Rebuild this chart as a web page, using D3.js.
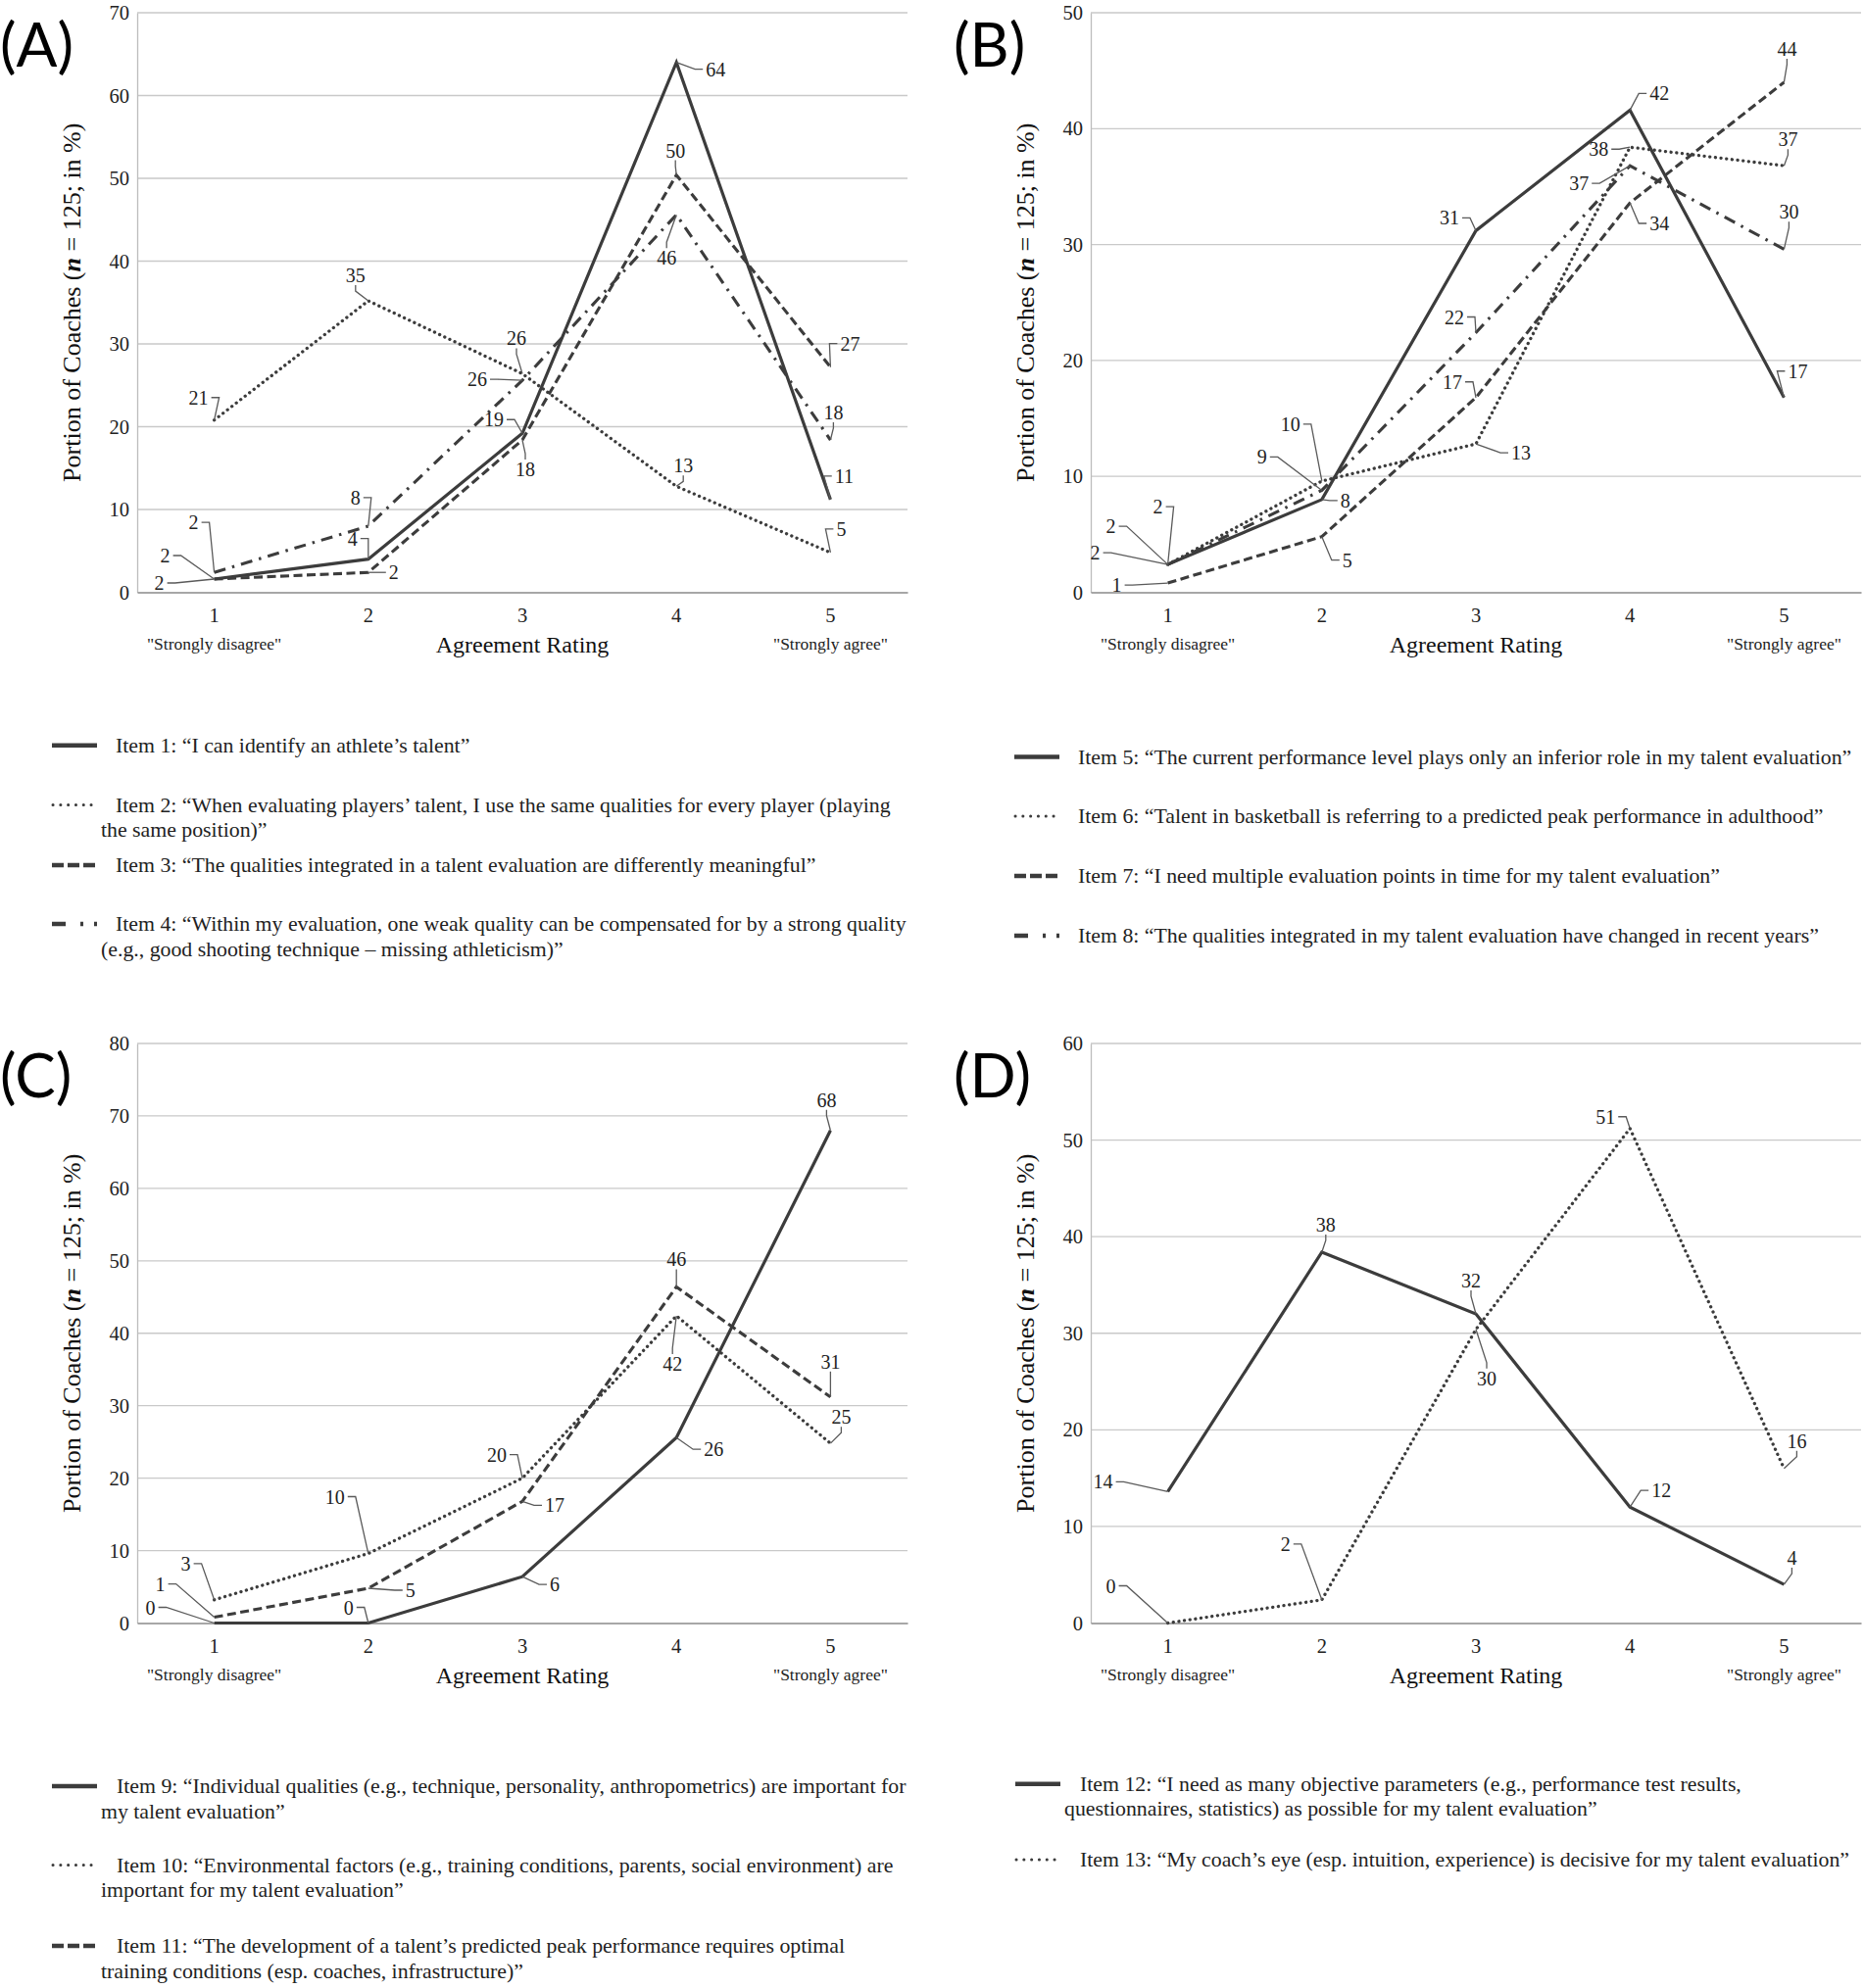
<!DOCTYPE html>
<html><head><meta charset="utf-8">
<script src="https://cdn.jsdelivr.net/npm/d3@7"></script>
<style>body{margin:0;background:#fff}svg{display:block}</style>
</head><body>
<svg id="chart" width="1902" height="2029"></svg>
<script>
// ---------------- DATA ----------------
const ratings = [1, 2, 3, 4, 5];
const ratingNotes = ['"Strongly disagree"', '', '', '', '"Strongly agree"'];
const xAxisTitle = 'Agreement Rating';
const yAxisTitleParts = ['Portion of Coaches (', 'n', ' = 125; in %)'];
const panelNames = ['(A)', '(B)', '(C)', '(D)'];

const ticksA = [0, 10, 20, 30, 40, 50, 60, 70];
const ticksB = [0, 10, 20, 30, 40, 50];
const ticksC = [0, 10, 20, 30, 40, 50, 60, 70, 80];
const ticksD = [0, 10, 20, 30, 40, 50, 60];

// percentages of n = 125 coaches
const item1 = [1.6, 4.0, 19.2, 64.0, 11.2];
const item2 = [20.8, 35.2, 26.4, 12.8, 4.8];
const item3 = [1.6, 2.4, 18.4, 50.4, 27.2];
const item4 = [2.4, 8.0, 25.6, 45.6, 18.4];
const item5 = [2.4, 8.0, 31.2, 41.6, 16.8];
const item6 = [2.4, 9.6, 12.8, 38.4, 36.8];
const item7 = [0.8, 4.8, 16.8, 33.6, 44.0];
const item8 = [2.4, 8.8, 22.4, 36.8, 29.6];
const item9 = [0.0, 0.0, 6.4, 25.6, 68.0];
const item10 = [3.2, 9.6, 20.0, 42.4, 24.8];
const item11 = [0.8, 4.8, 16.8, 46.4, 31.2];
const item12 = [13.6, 38.4, 32.0, 12.0, 4.0];
const item13 = [0.0, 2.4, 30.4, 51.2, 16.0];

const legend1 = ['Item 1: \u201CI can identify an athlete\u2019s talent\u201D'];
const legend2 = ['Item 2: \u201CWhen evaluating players\u2019 talent, I use the same qualities for every player (playing', 'the same position)\u201D'];
const legend3 = ['Item 3: \u201CThe qualities integrated in a talent evaluation are differently meaningful\u201D'];
const legend4 = ['Item 4: \u201CWithin my evaluation, one weak quality can be compensated for by a strong quality', '(e.g., good shooting technique \u2013 missing athleticism)\u201D'];
const legend5 = ['Item 5: \u201CThe current performance level plays only an inferior role in my talent evaluation\u201D'];
const legend6 = ['Item 6: \u201CTalent in basketball is referring to a predicted peak performance in adulthood\u201D'];
const legend7 = ['Item 7: \u201CI need multiple evaluation points in time for my talent evaluation\u201D'];
const legend8 = ['Item 8: \u201CThe qualities integrated in my talent evaluation have changed in recent years\u201D'];
const legend9 = ['Item 9: \u201CIndividual qualities (e.g., technique, personality, anthropometrics) are important for', 'my talent evaluation\u201D'];
const legend10 = ['Item 10: \u201CEnvironmental factors (e.g., training conditions, parents, social environment) are', 'important for my talent evaluation\u201D'];
const legend11 = ['Item 11: \u201CThe development of a talent\u2019s predicted peak performance requires optimal', 'training conditions (esp. coaches, infrastructure)\u201D'];
const legend12 = ['Item 12: \u201CI need as many objective parameters (e.g., performance test results,', 'questionnaires, statistics) as possible for my talent evaluation\u201D'];
const legend13 = ['Item 13: \u201CMy coach\u2019s eye (esp. intuition, experience) is decisive for my talent evaluation\u201D'];

// ---------------- LAYOUT (annotation label offsets, px from point) ----------------
const lab1 = [[-50,-24],[-16,-21],[-29,-14],[40,7],[14,-24]];
const lab2 = [[-16,-23],[-13,-26],[-6,-36],[7,-21],[11,-24]];
const lab3 = [[-56,4],[26,0],[3,30],[-1,-25],[20,-24]];
const lab4 = [[-21,-51],[-13,-29],[-46,-1],[-10,44],[3,-28]];
const lab5 = [[-74,-12],[24,1],[-27,-13],[30,-17],[14,-27]];
const lab6 = [[-58,-39],[-32,-58],[46,9],[-32,2],[4,-27]];
const lab7 = [[-52,2],[26,24],[-24,-16],[30,21],[3,-34]];
const lab8 = [[-10,-59],[-61,-34],[-22,-16],[-52,18],[5,-38]];
const lab9 = [[-65,-16],[-20,-16],[33,8],[38,12],[-4,-31]];
const lab10 = [[-29,-37],[-34,-58],[-26,-24],[-4,49],[11,-27]];
const lab11 = [[-55,-34],[43,2],[33,4],[0,-28],[0,-36]];
const lab12 = [[-66,-10],[4,-28],[-5,-34],[32,-17],[8,-27]];
const lab13 = [[-58,-38],[-37,-57],[11,50],[-25,-12],[13,-28]];

const SERIF = '"Liberation Serif","Times New Roman",Times,serif';
const INK = '#3c3c3c';
const styles = {
  solid:   {dash: null, width: 3.2, cap: 'butt'},
  dotted:  {dash: '0.1 5.6', width: 3.3, cap: 'round'},
  dashed:  {dash: '9 4.5', width: 3.1, cap: 'butt'},
  dashdot: {dash: '12 7 2.5 7', width: 3.1, cap: 'butt'}
};

const panels = [
  {name: panelNames[0], ox: 0, oy: 0, ticks: ticksA,
   series: [{v: item1, s: 'solid', lab: lab1}, {v: item2, s: 'dotted', lab: lab2}, {v: item3, s: 'dashed', lab: lab3}, {v: item4, s: 'dashdot', lab: lab4}],
   legend: {sx: 53, tx: 118, cx: 103, rows: [760.7, 821.5, 883, 943], items: [legend1, legend2, legend3, legend4]}},
  {name: panelNames[1], ox: 973, oy: 0, ticks: ticksB,
   series: [{v: item5, s: 'solid', lab: lab5}, {v: item6, s: 'dotted', lab: lab6}, {v: item7, s: 'dashed', lab: lab7}, {v: item8, s: 'dashdot', lab: lab8}],
   legend: {sx: 1035, tx: 1100, cx: 1085, rows: [772.5, 833, 894, 955], items: [legend5, legend6, legend7, legend8]}},
  {name: panelNames[2], ox: 0, oy: 1052, ticks: ticksC,
   series: [{v: item9, s: 'solid', lab: lab9}, {v: item10, s: 'dotted', lab: lab10}, {v: item11, s: 'dashed', lab: lab11}],
   legend: {sx: 53, tx: 119, cx: 103, rows: [1823, 1903.5, 1986], items: [legend9, legend10, legend11]}},
  {name: panelNames[3], ox: 973, oy: 1052, ticks: ticksD,
   series: [{v: item12, s: 'solid', lab: lab12}, {v: item13, s: 'dotted', lab: lab13}],
   legend: {sx: 1036, tx: 1102, cx: 1086, rows: [1820.7, 1898], items: [legend12, legend13]}}
];
const legendStyles = ['solid', 'dotted', 'dashed', 'dashdot'];

const svg = d3.select('#chart');
svg.append('rect').attr('width', 1902).attr('height', 2029).attr('fill', '#fff');

function drawPanel(p) {
  const g = svg.append('g').attr('transform', `translate(${p.ox},${p.oy})`);
  const left = 140, right = 926, top = 13, bottom = 604.5;
  const x = d3.scaleBand().domain(ratings).range([left, right]);
  const cx = r => x(r) + x.bandwidth() / 2;
  const y = d3.scaleLinear().domain([0, d3.max(p.ticks)]).range([bottom, top]);

  // panel letter
  g.append('text').attr('x', 0).attr('y', 68)
    .attr('font-family', 'Lato, "Open Sans", sans-serif').attr('font-size', 62)
    .attr('fill', '#000').text(p.name);

  // gridlines
  g.append('g').selectAll('line').data(p.ticks.filter(t => t > 0)).join('line')
    .attr('x1', left).attr('x2', right).attr('y1', d => y(d)).attr('y2', d => y(d))
    .attr('stroke', '#c9c9c9').attr('stroke-width', 1.3);

  // y axis
  const ya = g.append('g').attr('transform', `translate(${left},0)`)
    .call(d3.axisLeft(y).tickValues(p.ticks).tickSize(0).tickPadding(8));
  ya.select('.domain').attr('stroke', '#bdbdbd').attr('stroke-width', 1.3);
  ya.selectAll('text').attr('font-family', SERIF).attr('font-size', 20.5).attr('fill', '#222');

  // x axis
  const xa = g.append('g').attr('transform', `translate(0,${bottom})`)
    .call(d3.axisBottom(x).tickSize(0).tickPadding(16));
  xa.select('.domain').attr('stroke', '#8a8a8a').attr('stroke-width', 1.5);
  xa.selectAll('text').attr('font-family', SERIF).attr('font-size', 20.5).attr('fill', '#222');

  // rating notes
  g.append('g').selectAll('text').data(ratings.filter((r, i) => ratingNotes[i])).join('text')
    .attr('x', r => cx(r)).attr('y', 663).attr('text-anchor', 'middle')
    .attr('font-family', SERIF).attr('font-size', 17.5).attr('fill', '#222')
    .text(r => ratingNotes[ratings.indexOf(r)]);

  // axis titles
  g.append('text').attr('x', cx(3)).attr('y', 666).attr('text-anchor', 'middle')
    .attr('font-family', SERIF).attr('font-size', 24).attr('fill', '#111').text(xAxisTitle);
  const yt = g.append('text').attr('transform', `translate(82,${(top + bottom) / 2}) rotate(-90)`).attr('text-anchor', 'middle')
    .attr('font-family', SERIF).attr('font-size', 26).attr('fill', '#111');
  yt.append('tspan').text(yAxisTitleParts[0]);
  yt.append('tspan').attr('font-style', 'italic').attr('font-weight', 'bold').text(yAxisTitleParts[1]);
  yt.append('tspan').text(yAxisTitleParts[2]);

  // lines
  const line = d3.line().x((d, i) => cx(ratings[i])).y(d => y(d));
  p.series.forEach(s => {
    const st = styles[s.s];
    g.append('path').datum(s.v).attr('d', line).attr('fill', 'none')
      .attr('stroke', INK).attr('stroke-width', st.width)
      .attr('stroke-dasharray', st.dash).attr('stroke-linecap', st.cap)
      .attr('stroke-linejoin', 'miter');
  });

  // data labels + leaders
  const lg = g.append('g');
  const tg = g.append('g');
  p.series.forEach(s => {
    s.v.forEach((v, i) => {
      const px = cx(ratings[i]), py = y(v);
      const [dx, dy] = s.lab[i];
      const lx = px + dx, ly = py + dy;
      const t = tg.append('text').attr('x', lx).attr('y', ly).attr('dy', '0.35em')
        .attr('text-anchor', 'middle').attr('font-family', SERIF).attr('font-size', 20)
        .attr('fill', '#222').text(Math.round(v));
      const hw = t.node().getComputedTextLength() / 2, hh = 7;
      let pts;
      if (Math.abs(dx) > hw + 3) {
        const sg = Math.sign(dx);
        const hx = lx - sg * (hw + 3);
        const ex = hx - sg * 8;
        pts = [[px, py], [ex, ly], [hx, ly]];
      } else {
        const sg = Math.sign(dy);
        const hy = ly - sg * (hh + 3);
        const ey = hy - sg * 6;
        pts = [[px, py], [lx, ey], [lx, hy]];
      }
      if (Math.hypot(pts[2][0] - px, pts[2][1] - py) > 6) {
        lg.append('path').attr('d', d3.line()(pts)).attr('fill', 'none')
          .attr('stroke', '#5a5a5a').attr('stroke-width', 1.3);
      }
    });
  });

  // legend (absolute coords)
  const L = p.legend;
  const leg = svg.append('g');
  L.items.forEach((lines, k) => {
    const yy = L.rows[k];
    const st = legendStyles[k];
    const sx = L.sx, ex = L.sx + 46;
    if (st === 'solid') {
      leg.append('line').attr('x1', sx).attr('x2', ex).attr('y1', yy).attr('y2', yy)
        .attr('stroke', INK).attr('stroke-width', 4.5);
    } else if (st === 'dotted') {
      leg.append('line').attr('x1', sx + 1).attr('x2', ex).attr('y1', yy).attr('y2', yy)
        .attr('stroke', INK).attr('stroke-width', 3).attr('stroke-linecap', 'round')
        .attr('stroke-dasharray', '0.1 7.7');
    } else if (st === 'dashed') {
      leg.append('line').attr('x1', sx).attr('x2', ex).attr('y1', yy).attr('y2', yy)
        .attr('stroke', INK).attr('stroke-width', 4.5).attr('stroke-dasharray', '12 4');
    } else {
      leg.append('line').attr('x1', sx).attr('x2', ex).attr('y1', yy).attr('y2', yy)
        .attr('stroke', INK).attr('stroke-width', 4.5).attr('stroke-dasharray', '14 15 3 11 3 40');
    }
    lines.forEach((ln, j) => {
      leg.append('text').attr('x', j === 0 ? L.tx : L.cx).attr('y', yy + 7 + j * 25.5)
        .attr('font-family', SERIF).attr('font-size', 21.8).attr('fill', '#222').text(ln);
    });
  });
}

panels.forEach(drawPanel);
</script>
</body></html>
